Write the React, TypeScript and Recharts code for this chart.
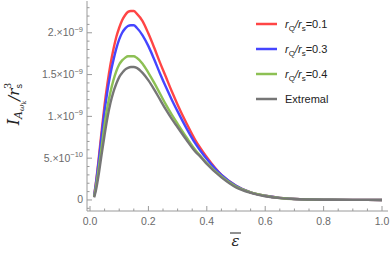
import { LineChart, Line, XAxis, YAxis } from "recharts"

// energy grid (x axis)
const eps = [
  0.014, 0.02, 0.03, 0.04, 0.05, 0.06, 0.07, 0.08, 0.09, 0.1, 0.11, 0.12, 0.13, 0.14, 0.15, 0.16, 0.18, 0.2,
  0.22, 0.24, 0.26, 0.28, 0.3, 0.33, 0.36, 0.38, 0.4, 0.45, 0.5, 0.55, 0.6, 0.65, 0.7, 0.8, 0.9, 1.0,
]

// values in units of 1e-9
const rq01 = [
  0.05, 0.2, 0.5, 0.83, 1.14, 1.4, 1.62, 1.8, 1.95, 2.06, 2.15, 2.21, 2.25, 2.26, 2.26, 2.23, 2.14, 1.99,
  1.82, 1.64, 1.47, 1.3, 1.14, 0.92, 0.72, 0.61, 0.51, 0.3, 0.17, 0.09, 0.05, 0.025, 0.012, 0.003, 0.001, 0.0003,
]
const rq03 = [
  0.05, 0.19, 0.47, 0.78, 1.07, 1.31, 1.51, 1.67, 1.81, 1.92, 2.0, 2.05, 2.08, 2.09, 2.09, 2.06, 1.97, 1.84,
  1.68, 1.51, 1.35, 1.2, 1.06, 0.86, 0.68, 0.58, 0.49, 0.3, 0.17, 0.09, 0.05, 0.025, 0.012, 0.003, 0.001, 0.0003,
]
const rq04 = [
  0.04, 0.15, 0.38, 0.64, 0.9, 1.12, 1.29, 1.43, 1.54, 1.62, 1.67, 1.7, 1.72, 1.72, 1.72, 1.7, 1.63, 1.52,
  1.4, 1.27, 1.14, 1.02, 0.91, 0.75, 0.6, 0.52, 0.44, 0.28, 0.16, 0.09, 0.05, 0.024, 0.011, 0.003, 0.001, 0.0003,
]
const extremal = [
  0.03, 0.11, 0.31, 0.55, 0.78, 0.99, 1.16, 1.29, 1.39, 1.47, 1.52, 1.56, 1.58, 1.59, 1.59, 1.58, 1.52, 1.43,
  1.32, 1.2, 1.08, 0.97, 0.87, 0.72, 0.58, 0.51, 0.43, 0.27, 0.15, 0.085, 0.045, 0.022, 0.011, 0.003, 0.001, 0.0003,
]

const xTicks = [0, 0.05, 0.1, 0.15, 0.2, 0.25, 0.3, 0.35, 0.4, 0.45, 0.5, 0.55, 0.6, 0.65, 0.7, 0.75, 0.8, 0.85, 0.9, 0.95, 1.0]
const yTicks = [
  -0.1, 0, 0.1, 0.2, 0.3, 0.4, 0.5, 0.6, 0.7, 0.8, 0.9, 1.0, 1.1, 1.2, 1.3, 1.4, 1.5, 1.6, 1.7, 1.8, 1.9, 2.0, 2.1,
  2.2, 2.3,
]
const yLabels: Record<string, [string, string]> = {
  "0": ["0", ""],
  "0.5": ["5.×10", "−10"],
  "1": ["1.×10", "−9"],
  "1.5": ["1.5×10", "−9"],
  "2": ["2.×10", "−9"],
}

const series = [
  { key: "rq01", label: "0.1", color: "#ff4545" },
  { key: "rq03", label: "0.3", color: "#4545ff" },
  { key: "rq04", label: "0.4", color: "#8dc054" },
  { key: "extremal", label: "Extremal", color: "#767676" },
]

const data = eps.map((e, i) => ({ e, rq01: rq01[i], rq03: rq03[i], rq04: rq04[i], extremal: extremal[i] }))

const W = 390
const H = 257
const LEFT = 87
const RIGHT = 388
const TOP = 1
const BOTTOM = 211
const FRAME = "#9a9a9a"
const TXT = "#6a6a6a"

const isMult = (v: number, step: number) => Math.abs(v / step - Math.round(v / step)) < 1e-6

function LeftTick(props: any) {
  const { y, payload } = props
  const v = payload.value
  const major = isMult(v, 0.5)
  const lab = yLabels[String(Math.round(v * 10) / 10)]
  return (
    <g>
      <line x1={LEFT} x2={LEFT + (major ? 5 : 2.5)} y1={y} y2={y} stroke={FRAME} />
      {major && lab && (
        <text x={LEFT - 4} y={y + 3.5} textAnchor="end" fontSize={10.5} fill={TXT} fontFamily="Liberation Sans, Arial">
          {lab[0]}
          {lab[1] && (
            <tspan fontSize={7.5} dy={-4.5}>
              {lab[1]}
            </tspan>
          )}
        </text>
      )}
    </g>
  )
}

function RightTick(props: any) {
  const { y, payload } = props
  const major = isMult(payload.value, 0.5)
  return <line x1={RIGHT} x2={RIGHT - (major ? 5 : 2.5)} y1={y} y2={y} stroke={FRAME} />
}

function BottomTick(props: any) {
  const { x, payload } = props
  const v = payload.value
  const major = isMult(v, 0.2)
  return (
    <g>
      <line x1={x} x2={x} y1={BOTTOM} y2={BOTTOM - (major ? 5 : 2.5)} stroke={FRAME} />
      {major && (
        <text x={x} y={BOTTOM + 14} textAnchor="middle" fontSize={10.5} fill={TXT} fontFamily="Liberation Sans, Arial">
          {v.toFixed(1)}
        </text>
      )}
    </g>
  )
}

function TopTick(props: any) {
  const { x, payload } = props
  const major = isMult(payload.value, 0.2)
  return <line x1={x} x2={x} y1={TOP} y2={TOP + (major ? 5 : 2.5)} stroke={FRAME} />
}

function LegendBox() {
  return (
    <svg width={140} height={110} style={{ position: "absolute", left: 250, top: 10 }}>
      {series.map((s, i) => {
        const cy = 14 + i * 25
        return (
          <g key={s.key}>
            <line x1={6} x2={27} y1={cy} y2={cy} stroke={s.color} strokeWidth={2.5} />
            <text x={35} y={cy + 4} fontSize={11} fill="#222" fontFamily="Liberation Sans, Arial">
              {s.label === "Extremal" ? (
                "Extremal"
              ) : (
                <>
                  <tspan fontStyle="italic">r</tspan>
                  <tspan fontSize={8} dy={3}>Q</tspan>
                  <tspan dy={-3} fontStyle="italic">/r</tspan>
                  <tspan fontSize={8} dy={3}>s</tspan>
                  <tspan dy={-3}>{"=" + s.label}</tspan>
                </>
              )}
            </text>
          </g>
        )
      })}
    </svg>
  )
}

function AxisLabels() {
  return (
    <svg width={W} height={H} style={{ position: "absolute", left: 0, top: 0, pointerEvents: "none" }}>
      <text transform="translate(19,104) rotate(-90)" textAnchor="middle" fill="#222" fontFamily="DejaVu Serif">
        <tspan fontSize={16} fontStyle="italic">I</tspan>
        <tspan fontSize={11} dy={3} fontStyle="italic">A</tspan>
        <tspan fontSize={8} dy={2} fontStyle="italic">ω</tspan>
        <tspan fontSize={6} dy={1.5}>k</tspan>
        <tspan fontSize={15} dy={-6.5} fontStyle="italic">/r</tspan>
        <tspan fontSize={9} dy={3} fontFamily="Liberation Sans, Arial">s</tspan>
        <tspan fontSize={10} dx={-5} dy={-11}>3</tspan>
      </text>
      <line x1={230} x2={241} y1={233} y2={233} stroke="#222" strokeWidth={1} />
      <text x={235.5} y={246} textAnchor="middle" fontSize={15} fontStyle="italic" fill="#222" fontFamily="DejaVu Serif">
        ε
      </text>
    </svg>
  )
}

export default function App() {
  return (
    <div style={{ position: "absolute", left: 0, top: 0, width: W, height: H, background: "#fff" }}>
      <LineChart width={W} height={H} data={data} margin={{ top: TOP, right: W - RIGHT, bottom: 0, left: 0 }}>
        <XAxis
          xAxisId="b"
          dataKey="e"
          type="number"
          domain={[-0.0103, 1.0205]}
          ticks={xTicks}
          tick={<BottomTick />}
          tickLine={false}
          axisLine={{ stroke: FRAME }}
          height={H - BOTTOM}
          interval={0}
        />
        <XAxis
          xAxisId="t"
          orientation="top"
          dataKey="e"
          type="number"
          domain={[-0.0103, 1.0205]}
          ticks={xTicks}
          tick={<TopTick />}
          tickLine={false}
          axisLine={{ stroke: FRAME }}
          height={0}
          interval={0}
        />
        <YAxis
          yAxisId="l"
          type="number"
          domain={[-0.132, 2.38]}
          ticks={yTicks}
          tick={<LeftTick />}
          tickLine={false}
          axisLine={{ stroke: FRAME }}
          width={LEFT}
          interval={0}
        />
        <YAxis
          yAxisId="r"
          orientation="right"
          type="number"
          domain={[-0.132, 2.38]}
          ticks={yTicks}
          tick={<RightTick />}
          tickLine={false}
          axisLine={{ stroke: FRAME }}
          width={0}
          interval={0}
        />
        {series.map((s) => (
          <Line
            key={s.key}
            xAxisId="b"
            yAxisId="l"
            dataKey={s.key}
            type="monotone"
            stroke={s.color}
            strokeWidth={2.4}
            dot={false}
            isAnimationActive={false}
          />
        ))}
      </LineChart>
      <AxisLabels />
      <LegendBox />
    </div>
  )
}
